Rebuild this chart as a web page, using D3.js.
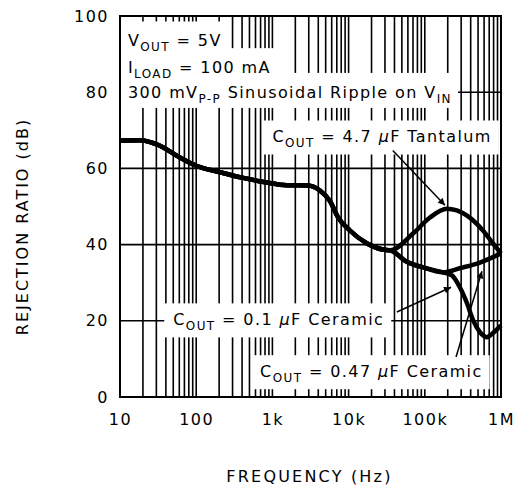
<!DOCTYPE html>
<html>
<head>
<meta charset="utf-8">
<script src="https://cdn.jsdelivr.net/npm/d3@7"></script>
<style>
  body { margin: 0; background: #fff; }
  text { font-family: "DejaVu Sans", sans-serif; fill: #000; }
  .tick text { font-size: 16px; letter-spacing: 1.5px; }
  .grid line { stroke: #000; stroke-width: 1.6; }
  .curve { fill: none; stroke: #000; stroke-width: 4.5; stroke-linejoin: round; }
  .arrow { stroke: #000; stroke-width: 1.5; }
</style>
</head>
<body>
<div id="chart"></div>
<script>
// shared low-frequency part of all three curves [Hz, dB]
var commonPart = [[10, 67.3], [18, 67.4], [33, 66.0], [55, 63.4], [100, 60.7], [205, 59.0],
    [414, 57.5], [843, 56.3], [1540, 55.6], [2900, 55.5], [4200, 54.2],
    [5700, 51.4], [7200, 47.3], [10400, 43.7], [17500, 40.3], [28000, 38.7], [35000, 38.5]];
var tantalumPart = [[70000, 42.9], [117000, 47.1], [194000, 49.4], [358000, 47.6],
    [580000, 43.7], [785000, 40.3], [1000000, 37.7]];
var ceramicPart = [[58000, 35.5], [95000, 34.0], [174000, 32.7]];
var ceramic01Part = [[227000, 31.9], [288000, 28.8], [358000, 24.6], [430000, 20.2],
    [530000, 17.0], [655000, 15.7], [785000, 16.8], [1000000, 18.8]];
var ceramic047Part = [[288000, 33.8], [530000, 35.3], [1000000, 37.7]];

var series = [
    commonPart.concat(tantalumPart),
    commonPart.concat(ceramicPart, ceramic01Part),
    commonPart.concat(ceramicPart, ceramic047Part)
];

var yTicks = [0, 20, 40, 60, 80, 100];
var xTicks = [10, 100, 1e3, 1e4, 1e5, 1e6];
var xTickLabels = ['10', '100', '1k', '10k', '100k', '1M'];
var xMinor = d3.range(1, 6).reduce(function(a, e) {
    return a.concat([2, 3, 4, 5, 6, 7, 8, 9, 10].map(function(m) { return m * Math.pow(10, e); }));
}, []).filter(function(f) { return f < 1e6; });
var yGrid = [20, 40, 60, 80];

// text blocks: f, dB of baseline, pieces [text, kind]
var notes = [
    { f: 12.7, db: 92.0, flush: true, parts: [['V', ''], ['OUT', 'sub'], [' = 5V', '']] },
    { f: 12.7, db: 85.0, flush: true, parts: [['I', ''], ['LOAD', 'sub'], [' = 100 mA', '']] },
    { f: 12.7, db: 78.5, flush: true, parts: [['300 mV', ''], ['P-P', 'sub'], [' Sinusoidal Ripple on V', ''], ['IN', 'sub']] },
    { f: 1000, db: 66.8, parts: [['C', ''], ['OUT', 'sub'], [' = 4.7 ', ''], ['\u03bc', 'it'], ['F Tantalum', '']] },
    { f: 50, db: 18.8, parts: [['C', ''], ['OUT', 'sub'], [' = 0.1 ', ''], ['\u03bc', 'it'], ['F Ceramic', '']] },
    { f: 690, db: 5.2, parts: [['C', ''], ['OUT', 'sub'], [' = 0.47 ', ''], ['\u03bc', 'it'], ['F Ceramic', '']] }
];
var arrows = [
    { from: [38000, 64.7], to: [184000, 50.3] },
    { from: [43000, 22.3], to: [221000, 28.8] },
    { from: [257000, 10.5], to: [562000, 33.0] }
];

var margin = {top: 16, right: 15, bottom: 92, left: 120},
    width = 516 - margin.left - margin.right,
    height = 489 - margin.top - margin.bottom;

var x = d3.scaleLog().domain([10, 1e6]).range([0, width]);
var y = d3.scaleLinear().domain([0, 100]).range([height, 0]);

var svg = d3.select('#chart').append('svg')
    .attr('width', 516).attr('height', 489);

svg.append('defs').append('marker')
    .attr('id', 'head')
    .attr('viewBox', '0 0 10 10')
    .attr('refX', 10).attr('refY', 5)
    .attr('markerWidth', 10).attr('markerHeight', 7)
    .attr('markerUnits', 'userSpaceOnUse')
    .attr('orient', 'auto')
    .append('path').attr('d', 'M0,0L10,5L0,10z').attr('fill', '#000');

var chart = svg.append('g')
    .attr('transform', 'translate(' + margin.left + ',' + margin.top + ')');

// grid
var grid = chart.append('g').attr('class', 'grid');
grid.selectAll('.vx').data(xMinor).enter().append('line')
    .attr('x1', function(d) { return x(d); }).attr('x2', function(d) { return x(d); })
    .attr('y1', 0).attr('y2', height);
grid.selectAll('.hy').data(yGrid).enter().append('line')
    .attr('x1', 0).attr('x2', width)
    .attr('y1', function(d) { return y(d); }).attr('y2', function(d) { return y(d); });

// note blocks: white backing rects first, then the text on top
var rectG = chart.append('g'), textG = chart.append('g');
notes.forEach(function(n) {
    var rect = rectG.append('rect').attr('fill', '#fff');
    var t = textG.append('text')
        .attr('x', x(n.f)).attr('y', y(n.db))
        .style('font-size', '16px').style('letter-spacing', '1.4px');
    var down = false;
    n.parts.forEach(function(p) {
        var s = t.append('tspan').text(p[0]);
        if (p[1] == 'sub') {
            s.style('font-size', '12px').attr('dy', 5);
            down = true;
        } else {
            if (down) s.attr('dy', -5);
            down = false;
            if (p[1] == 'it') s.style('font-style', 'italic');
        }
    });
    var bb = t.node().getBBox();
    if (n.flush) {
        rect.attr('x', 0).attr('width', bb.x + bb.width + 6)
            .attr('y', y(n.db) - 25).attr('height', 35);
    } else {
        rect.attr('x', bb.x - 9).attr('width', bb.width + 16)
            .attr('y', y(n.db) - 22).attr('height', 34);
    }
});

// arrows
chart.selectAll('.arrow').data(arrows).enter().append('line')
    .attr('class', 'arrow')
    .attr('x1', function(d) { return x(d.from[0]); })
    .attr('y1', function(d) { return y(d.from[1]); })
    .attr('x2', function(d) { return x(d.to[0]); })
    .attr('y2', function(d) { return y(d.to[1]); })
    .attr('marker-end', 'url(#head)');

// curves
var line = d3.line()
    .x(function(d) { return x(d[0]); })
    .y(function(d) { return y(d[1]); })
    .curve(d3.curveMonotoneX);
chart.selectAll('.curve').data(series).enter().append('path')
    .attr('class', 'curve')
    .attr('d', line);

// frame
chart.append('rect')
    .attr('width', width).attr('height', height)
    .attr('fill', 'none').attr('stroke', '#000').attr('stroke-width', 2);

// axes
var yAxis = chart.append('g')
    .call(d3.axisLeft(y).tickValues(yTicks).tickSize(0).tickPadding(11));
yAxis.select('.domain').remove();

var xAxis = chart.append('g')
    .attr('transform', 'translate(0,' + height + ')')
    .call(d3.axisBottom(x).tickValues(xTicks).tickSize(0).tickPadding(17)
        .tickFormat(function(d, i) { return xTickLabels[i]; }));
xAxis.select('.domain').remove();
xAxis.selectAll('text').attr('dy', '0.71em');

chart.append('text')
    .attr('x', width / 2 - 1).attr('y', height + 85)
    .attr('text-anchor', 'middle')
    .style('font-size', '16px').style('letter-spacing', '2.2px')
    .text('FREQUENCY (Hz)');

chart.append('text')
    .attr('transform', 'translate(' + (-92) + ',' + (height / 2 + 20) + ') rotate(-90)')
    .attr('text-anchor', 'middle')
    .style('font-size', '16px').style('letter-spacing', '2px')
    .text('REJECTION RATIO (dB)');
</script>
</body>
</html>
